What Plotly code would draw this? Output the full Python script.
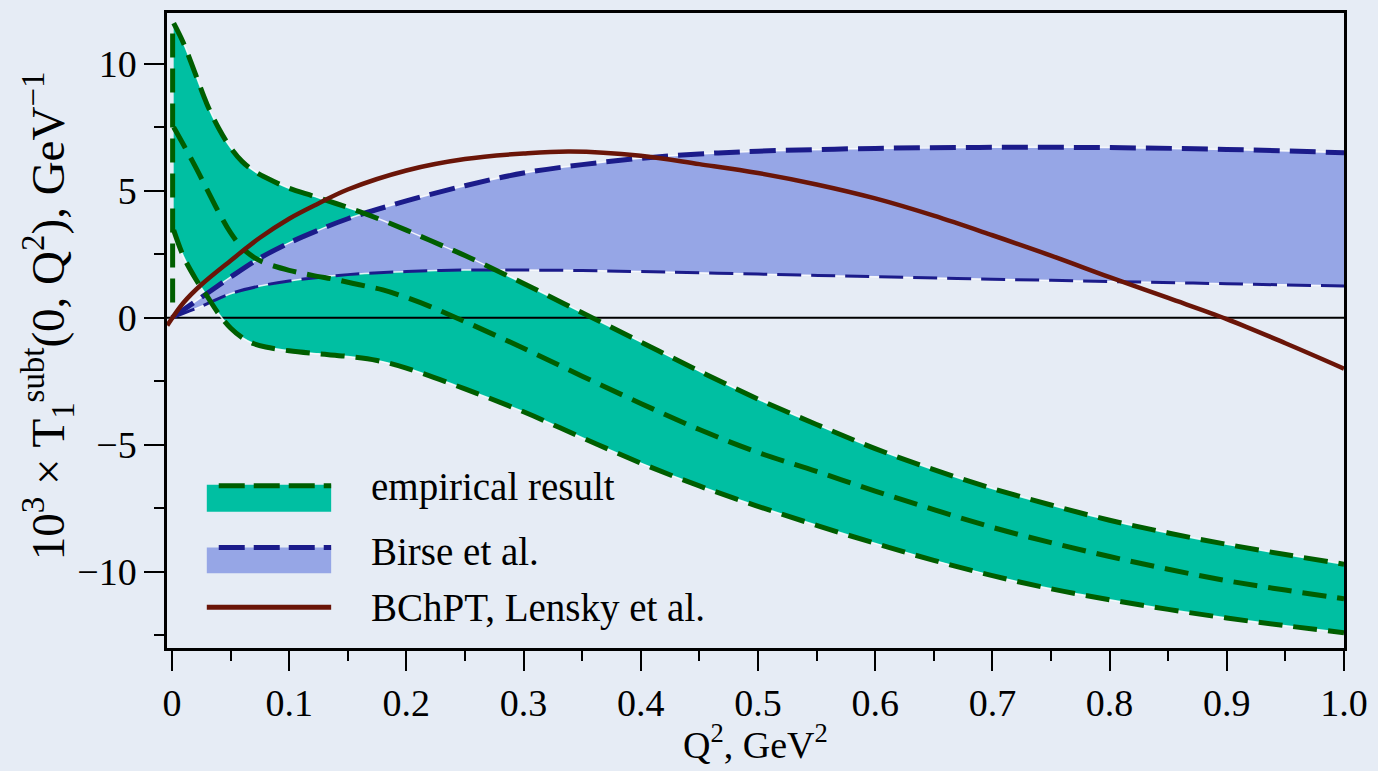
import plotly.graph_objects as go

# ---------------- data ----------------
emp_upper_x = [0.0015, 0.01, 0.02, 0.03, 0.04, 0.05, 0.06, 0.07, 0.08, 0.1, 0.12, 0.14, 0.16,
               0.18, 0.2, 0.22, 0.25, 0.3, 0.35, 0.4, 0.45, 0.5, 0.55, 0.6, 0.65, 0.7, 0.75,
               0.8, 0.85, 0.9, 0.95, 1.0]
emp_upper_y = [11.6, 10.8, 9.6, 8.4, 7.45, 6.7, 6.15, 5.78, 5.52, 5.1, 4.8, 4.5, 4.18,
               3.83, 3.45, 3.05, 2.45, 1.35, 0.2, -0.95, -2.1, -3.2, -4.2, -5.15, -5.98, -6.72, -7.37,
               -7.97, -8.47, -8.92, -9.32, -9.7]

emp_central_x = [0.0015, 0.01, 0.02, 0.03, 0.04, 0.05, 0.06, 0.07, 0.08, 0.1, 0.12, 0.14, 0.16,
                 0.18, 0.2, 0.22, 0.25, 0.3, 0.35, 0.4, 0.45, 0.5, 0.55, 0.6, 0.65, 0.7, 0.75,
                 0.8, 0.85, 0.9, 0.95, 1.0]
emp_central_y = [7.5, 6.8, 5.95, 5.05, 4.15, 3.35, 2.75, 2.38, 2.15, 1.87, 1.67, 1.5, 1.3,
                 1.1, 0.8, 0.45, -0.15, -1.2, -2.3, -3.37, -4.4, -5.3, -6.05, -6.82, -7.55, -8.25, -8.85,
                 -9.4, -9.9, -10.35, -10.72, -11.06]

emp_lower_x = [0.0015, 0.01, 0.02, 0.03, 0.04, 0.05, 0.06, 0.07, 0.08, 0.1, 0.125, 0.15, 0.175,
               0.2, 0.25, 0.3, 0.35, 0.4, 0.45, 0.5, 0.55, 0.6, 0.65, 0.7, 0.75, 0.8, 0.85,
               0.9, 0.95, 1.0]
emp_lower_y = [3.45, 2.4, 1.55, 0.85, 0.15, -0.4, -0.78, -1.02, -1.15, -1.3, -1.42, -1.52, -1.68,
               -1.98, -2.8, -3.7, -4.72, -5.72, -6.62, -7.42, -8.17, -8.88, -9.55, -10.15, -10.67, -11.1, -11.48,
               -11.82, -12.12, -12.4]

emp_edge_x = [0.0006, 0.0006]
emp_edge_y = [0.6, 11.5]

birse_upper_x = [0.0, 0.025, 0.05, 0.075, 0.1, 0.125, 0.15, 0.2, 0.25, 0.3, 0.35, 0.4, 0.45,
                 0.5, 0.6, 0.7, 0.8, 0.9, 1.0]
birse_upper_y = [0.0, 0.8, 1.6, 2.35, 2.95, 3.45, 3.9, 4.6, 5.2, 5.7, 6.03, 6.28, 6.45,
                 6.56, 6.67, 6.71, 6.7, 6.63, 6.5]

birse_lower_x = [0.0, 0.025, 0.05, 0.075, 0.1, 0.15, 0.2, 0.25, 0.3, 0.35, 0.4, 0.5, 0.6,
                 0.7, 0.8, 0.9, 1.0]
birse_lower_y = [0.0, 0.45, 0.95, 1.25, 1.45, 1.7, 1.82, 1.88, 1.88, 1.86, 1.82, 1.72, 1.62,
                 1.52, 1.43, 1.34, 1.25]

bchpt_x = [-0.004, 0.01, 0.025, 0.05, 0.075, 0.1, 0.125, 0.15, 0.2, 0.25, 0.3, 0.34, 0.4,
           0.45, 0.5, 0.55, 0.6, 0.65, 0.7, 0.75, 0.8, 0.85, 0.9, 0.95, 1.0]
bchpt_y = [-0.3, 0.6, 1.3, 2.25, 3.15, 3.9, 4.5, 5.05, 5.8, 6.25, 6.47, 6.55, 6.38,
           6.05, 5.7, 5.25, 4.7, 4.02, 3.25, 2.45, 1.6, 0.78, -0.05, -1.0, -2.0]

x_tick_vals = [0, 0.1, 0.2, 0.3, 0.4, 0.5, 0.6, 0.7, 0.8, 0.9, 1.0]
x_tick_text = ["0", "0.1", "0.2", "0.3", "0.4", "0.5", "0.6", "0.7", "0.8", "0.9", "1.0"]
x_minor_vals = [0.05, 0.15, 0.25, 0.35, 0.45, 0.55, 0.65, 0.75, 0.85, 0.95]
y_tick_vals = [-10, -5, 0, 5, 10]
y_tick_text = ["\u221210", "\u22125", "0", "5", "10"]
y_minor_vals = [-12.5, -7.5, -2.5, 2.5, 7.5]

legend_labels = ["empirical result", "Birse et al.", "BChPT, Lensky et al."]

x_range = [-0.0042, 1.0]
y_range = [-13, 12]

# ---------------- styles ----------------
FONT = "Liberation Serif, Times New Roman, serif"
BG = "#E6ECF5"
GREEN_FILL = "#00BFA2"
GREEN_LINE = "#005E00"
BLUE_FILL = "#96A6E6"
BLUE_LINE = "#1B1B8A"
BROWN = "#6A1508"
HALO = "rgba(255,255,255,0.85)"
DASH = "24px,11px"

fig = go.Figure()

# filled bands (green below, blue on top)
fig.add_trace(go.Scatter(x=emp_lower_x, y=emp_lower_y, mode="lines",
                         line=dict(width=0, shape="spline"), showlegend=False, hoverinfo="skip"))
fig.add_trace(go.Scatter(x=emp_upper_x, y=emp_upper_y, mode="lines", fill="tonexty",
                         fillcolor=GREEN_FILL, line=dict(width=0, shape="spline"),
                         showlegend=False, hoverinfo="skip"))
fig.add_trace(go.Scatter(x=birse_lower_x, y=birse_lower_y, mode="lines",
                         line=dict(width=0, shape="spline"), showlegend=False, hoverinfo="skip"))
fig.add_trace(go.Scatter(x=birse_upper_x, y=birse_upper_y, mode="lines", fill="tonexty",
                         fillcolor=BLUE_FILL, line=dict(width=0, shape="spline"),
                         showlegend=False, hoverinfo="skip"))

# zero line
fig.add_trace(go.Scatter(x=x_range, y=[0, 0], mode="lines",
                         line=dict(color="black", width=2), showlegend=False, hoverinfo="skip"))

# white halos along band edges
for xs, ys in [(birse_upper_x, birse_upper_y), (birse_lower_x, birse_lower_y),
               (emp_upper_x, emp_upper_y), (emp_lower_x, emp_lower_y)]:
    fig.add_trace(go.Scatter(x=xs, y=ys, mode="lines",
                             line=dict(color=HALO, width=1.5, shape="spline"),
                             showlegend=False, hoverinfo="skip"))

# Birse dashed lines
fig.add_trace(go.Scatter(x=birse_upper_x, y=birse_upper_y, mode="lines",
                         line=dict(color=BLUE_LINE, width=5, dash="26px,10px", shape="spline"),
                         showlegend=False))
fig.add_trace(go.Scatter(x=birse_lower_x, y=birse_lower_y, mode="lines",
                         line=dict(color=BLUE_LINE, width=3, dash="24px,10px", shape="spline"),
                         showlegend=False))

# empirical dashed lines
for xs, ys in [(emp_upper_x, emp_upper_y), (emp_central_x, emp_central_y),
               (emp_lower_x, emp_lower_y), (emp_edge_x, emp_edge_y)]:
    fig.add_trace(go.Scatter(x=xs, y=ys, mode="lines",
                             line=dict(color=GREEN_LINE, width=5, dash=DASH, shape="spline"),
                             showlegend=False))

# BChPT
fig.add_trace(go.Scatter(x=bchpt_x, y=bchpt_y, mode="lines",
                         line=dict(color=BROWN, width=4.5, shape="spline"), showlegend=False))

# ---------------- manual legend ----------------
def px_x(p):
    return (p - 167) / 1183.0

def px_y(p):
    return (648 - p) / 638.0

shapes = []
shapes.append(dict(type="rect", xref="paper", yref="paper", x0=px_x(207), x1=px_x(332),
                   y0=px_y(511), y1=px_y(484), fillcolor=GREEN_FILL, line=dict(width=0)))
shapes.append(dict(type="line", xref="paper", yref="paper", x0=px_x(219), x1=px_x(332),
                   y0=px_y(485), y1=px_y(485), line=dict(color=GREEN_LINE, width=5, dash="26px,9px")))
shapes.append(dict(type="rect", xref="paper", yref="paper", x0=px_x(207), x1=px_x(332),
                   y0=px_y(573), y1=px_y(547), fillcolor=BLUE_FILL, line=dict(width=0)))
shapes.append(dict(type="line", xref="paper", yref="paper", x0=px_x(219), x1=px_x(332),
                   y0=px_y(547), y1=px_y(547), line=dict(color=BLUE_LINE, width=5, dash="26px,9px")))
shapes.append(dict(type="line", xref="paper", yref="paper", x0=px_x(207), x1=px_x(332),
                   y0=px_y(607), y1=px_y(607), line=dict(color=BROWN, width=5)))

annotations = []
for lab, yp in zip(legend_labels, [486, 551, 608]):
    annotations.append(dict(text=lab, xref="paper", yref="paper", x=px_x(370), y=px_y(yp),
                            xanchor="left", yanchor="middle", showarrow=False,
                            font=dict(family=FONT, size=39, color="black")))

annotations.append(dict(text="Q<sup>2</sup>, GeV<sup>2</sup>", xref="paper", yref="paper",
                        x=px_x(758), y=px_y(769), xanchor="center", yanchor="bottom",
                        showarrow=False, font=dict(family=FONT, size=38, color="black")))
annotations.append(dict(text="10<sup>3</sup> \u00d7 T<sub>1</sub><sup>subt</sup>(0, Q<sup>2</sup>), GeV<sup>\u22121</sup>",
                        xref="paper", yref="paper", x=px_x(47), y=px_y(314),
                        xanchor="center", yanchor="middle", textangle=-90,
                        showarrow=False, font=dict(family=FONT, size=47, color="black")))

axis_common = dict(showline=True, linecolor="black", linewidth=2.5, mirror=True,
                   ticks="outside", ticklen=20, tickwidth=2, tickcolor="black",
                   showgrid=False, zeroline=False,
                   tickfont=dict(family=FONT, size=38, color="black"))

fig.update_layout(
    width=1378, height=771,
    margin=dict(l=167, r=28, t=10, b=123),
    paper_bgcolor=BG, plot_bgcolor=BG,
    showlegend=False,
    shapes=shapes, annotations=annotations,
    xaxis=dict(range=x_range, tickmode="array", tickvals=x_tick_vals, ticktext=x_tick_text,
               minor=dict(tickmode="array", tickvals=x_minor_vals, ticks="outside",
                          ticklen=10, tickwidth=2, tickcolor="black"),
               **axis_common),
    yaxis=dict(range=y_range, tickmode="array", tickvals=y_tick_vals, ticktext=y_tick_text,
               minor=dict(tickmode="array", tickvals=y_minor_vals, ticks="outside",
                          ticklen=10, tickwidth=2, tickcolor="black"),
               **axis_common),
)

fig.write_html("out.html", config={"displayModeBar": False},
               post_script="document.body.style.margin='0';document.body.style.background='%s';" % BG)
